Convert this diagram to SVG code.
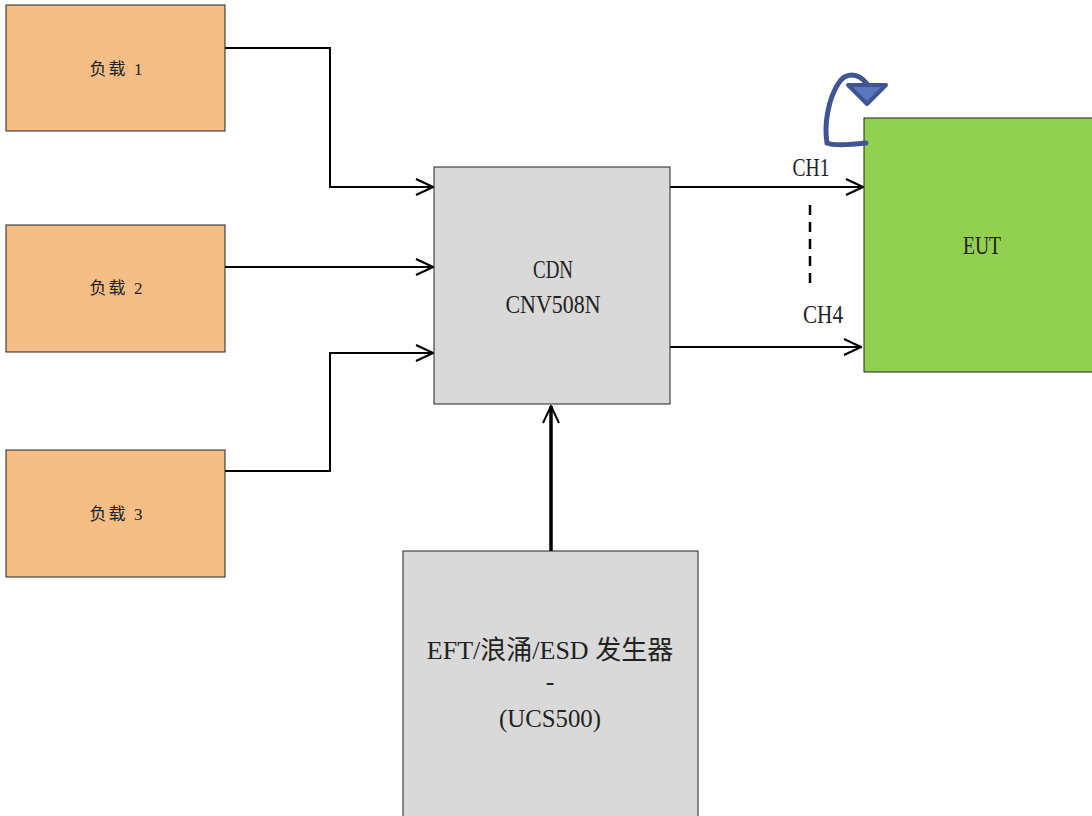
<svg xmlns="http://www.w3.org/2000/svg" width="1092" height="816" viewBox="0 0 1092 816">
<defs>
<style>
.load{fill:#f4be86;stroke:#222;stroke-width:1}
.gray{fill:#d9d9d9;stroke:#222;stroke-width:1}
.eut{fill:#92d050;stroke:#222;stroke-width:1}
.t{font-family:"Liberation Serif","Noto Sans CJK SC",serif;fill:#222;text-anchor:middle}
.c{fill:none;stroke:#000;stroke-width:2}
</style>
<marker id="ah" viewBox="0 0 20 20" refX="19" refY="10" markerWidth="20" markerHeight="20" markerUnits="userSpaceOnUse" orient="auto">
<path d="M2 2 L19 10 L2 18" fill="none" stroke="#000" stroke-width="2"/>
</marker>
</defs>
<rect width="1092" height="816" fill="#fff"/>
<g id="connectors">
<path class="c" d="M225 48 H330 V187 H433" marker-end="url(#ah)"/>
<path class="c" d="M225 267 H433" marker-end="url(#ah)"/>
<path class="c" d="M225 471 H330 V353 H433" marker-end="url(#ah)"/>
<path class="c" d="M670 187 H863" marker-end="url(#ah)"/>
<path class="c" d="M668 347 H861" marker-end="url(#ah)"/>
<path d="M810 205 V287" fill="none" stroke="#000" stroke-width="2.5" stroke-dasharray="10,7"/>
<path d="M551 551 V406" fill="none" stroke="#000" stroke-width="3.5" marker-end="url(#ah)"/>
</g>
<g id="load1"><rect class="load" x="6" y="5" width="219" height="126"/><text class="t" x="116" y="75" font-size="17" textLength="53" lengthAdjust="spacing">负载 1</text></g>
<g id="load2"><rect class="load" x="6" y="225" width="219" height="127"/><text class="t" x="116" y="294" font-size="17" textLength="53" lengthAdjust="spacing">负载 2</text></g>
<g id="load3"><rect class="load" x="6" y="450" width="219" height="127"/><text class="t" x="116" y="520" font-size="17" textLength="53" lengthAdjust="spacing">负载 3</text></g>
<g id="cdn"><rect class="gray" x="434" y="167" width="236" height="237"/>
<text class="t" x="553" y="278" font-size="26" textLength="40" lengthAdjust="spacingAndGlyphs">CDN</text>
<text class="t" x="553" y="313" font-size="26" textLength="95" lengthAdjust="spacingAndGlyphs">CNV508N</text></g>
<g id="eut"><rect class="eut" x="864" y="118" width="230" height="254"/><text class="t" x="982" y="254" font-size="26" textLength="38" lengthAdjust="spacingAndGlyphs">EUT</text></g>
<g id="gen"><rect class="gray" x="403" y="551" width="295" height="270"/>
<text class="t" x="550" y="659" font-size="26">EFT/浪涌/ESD 发生器</text>
<text class="t" x="550" y="690" font-size="26">-</text>
<text class="t" x="550" y="727" font-size="26" textLength="102" lengthAdjust="spacingAndGlyphs">(UCS500)</text></g>
<g id="labels">
<text class="t" x="811" y="176" font-size="25" textLength="37" lengthAdjust="spacingAndGlyphs">CH1</text>
<text class="t" x="823" y="323" font-size="25" textLength="40" lengthAdjust="spacingAndGlyphs">CH4</text>
</g>
<g id="rotation">
<path d="M866 143 C848 145 834 146 827 143 C824 125 828 100 838 84 C845 72 858 72 867 84" fill="none" stroke="#3f5491" stroke-width="5" stroke-linecap="round"/>
<path d="M848 85 L886 85 L867 104 Z" fill="#5b76bd" stroke="#3f5491" stroke-width="4" stroke-linejoin="round"/>
</g>
</svg>
